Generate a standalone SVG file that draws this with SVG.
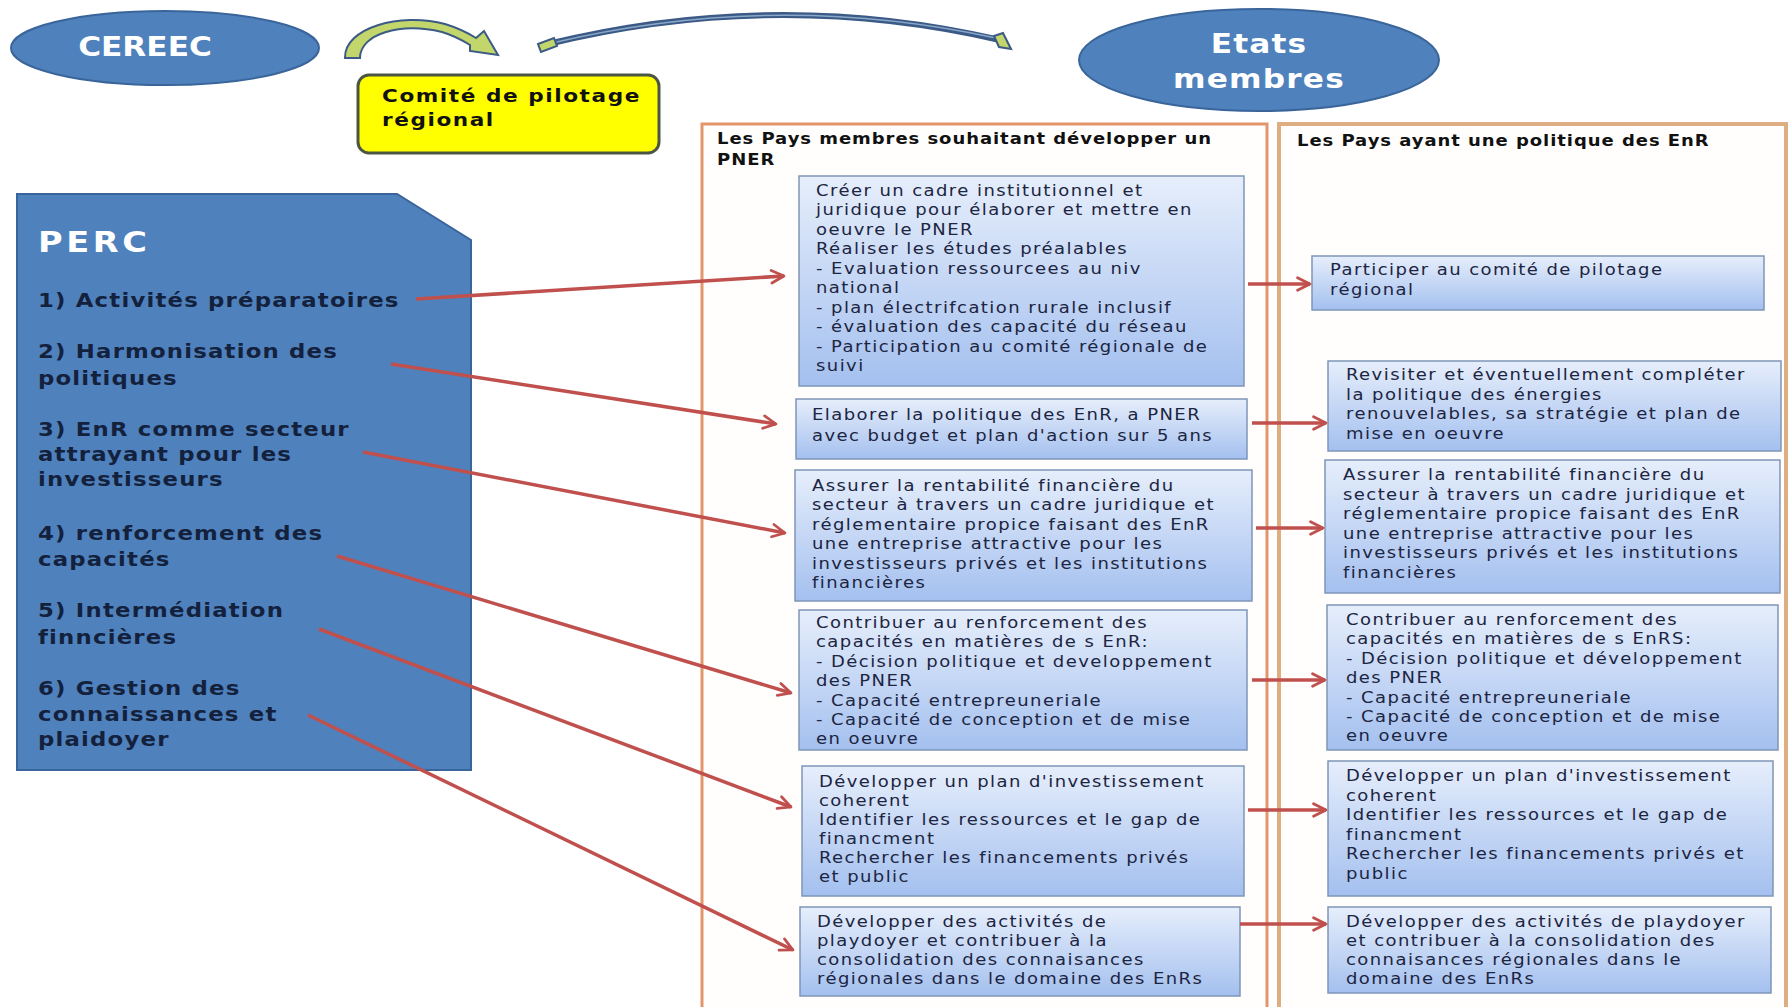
<svg xmlns="http://www.w3.org/2000/svg" width="1789" height="1007" viewBox="0 0 1789 1007">
<defs>
<style>
.t{font-family:"DejaVu Sans",sans-serif;font-size:15px;fill:#1c2541;letter-spacing:1.2px}
.h{font-family:"DejaVu Sans",sans-serif;font-weight:bold;font-size:15px;fill:#111;letter-spacing:0.8px}
.y{font-family:"DejaVu Sans",sans-serif;font-weight:bold;font-size:18px;fill:#111;letter-spacing:1.3px}
.p{font-family:"DejaVu Sans",sans-serif;font-weight:bold;font-size:19px;fill:#14213d;letter-spacing:1px}
.w{font-family:"DejaVu Sans",sans-serif;font-weight:bold;fill:#fff}
.box{fill:url(#bg);stroke:#7f95b8;stroke-width:1.5}
.ar{stroke:#c0504d;stroke-width:3.5;fill:none;marker-end:url(#ah)}
</style>
<linearGradient id="bg" x1="0" y1="0" x2="0" y2="1">
<stop offset="0" stop-color="#e6eefb"/>
<stop offset="1" stop-color="#a4c0ef"/>
</linearGradient>
<marker id="ah" viewBox="0 0 14 14" refX="12" refY="7" markerWidth="5" markerHeight="5" orient="auto" markerUnits="strokeWidth">
<path d="M2,2 L12,7 L2,12" fill="none" stroke="#c0504d" stroke-width="2.2" stroke-linecap="round" stroke-linejoin="round"/>
</marker>
</defs>
<rect width="1789" height="1007" fill="#fff"/>

<g id="cereec">
<ellipse cx="165" cy="48" rx="154" ry="37" fill="#4f81bd" stroke="#3a659a" stroke-width="2"/>
<g transform="translate(145 0) scale(1.2 1)"><text class="w" x="0" y="56" font-size="26" text-anchor="middle">CEREEC</text></g>
</g>

<g id="etats-membres">
<ellipse cx="1259" cy="60" rx="180" ry="51" fill="#4f81bd" stroke="#3a659a" stroke-width="2"/>
<g transform="translate(1259 0) scale(1.2 1)"><text class="w" font-size="26" text-anchor="middle" letter-spacing="1"><tspan x="0" y="53">Etats</tspan><tspan x="0" y="88">membres</tspan></text></g>
</g>

<g id="comite">
<rect x="358" y="75" width="301" height="78" rx="11" fill="#ffff00" stroke="#4b5642" stroke-width="3"/>
<g transform="translate(382 0) scale(1.2 1)"><text class="y"><tspan x="0" y="102">Comité de pilotage</tspan><tspan x="0" y="126">régional</tspan></text></g>
</g>

<g id="top-arrows">
<path d="M345,58 C344,28 400,12 445,24 C458,28 468,33 476,38 L484,31 L498,55 L470,51 L470,45 C462,40 452,35 442,32 C400,22 360,34 360,58 Z" fill="#c3d66b" stroke="#3b5a86" stroke-width="2"/>
<path d="M548,44 Q776,-12 1000,40" fill="none" stroke="#3b5a86" stroke-width="6"/>
<path d="M552,43 Q776,-10 996,38" fill="none" stroke="#8aa7c9" stroke-width="1.5"/>
<path d="M538,44 L554,38 L557,46 L541,52 Z" fill="#c3d66b" stroke="#3b5a86" stroke-width="2"/>
<path d="M994,36 L1003,33 L1011,49 L999,47 Z" fill="#c3d66b" stroke="#3b5a86" stroke-width="2"/>
</g>

<g id="perc">
<path d="M17,194 L397,194 L471,240 L471,770 L17,770 Z" fill="#4f81bd" stroke="#3a659a" stroke-width="2"/>
<g transform="translate(38 0) scale(1.2 1)">
<text class="w" x="0" y="252" font-size="28" letter-spacing="3">PERC</text>
<text class="p">
<tspan x="0" y="307">1) Activités préparatoires</tspan>
<tspan x="0" y="358">2) Harmonisation des</tspan>
<tspan x="0" y="385">politiques</tspan>
<tspan x="0" y="436">3) EnR comme secteur</tspan>
<tspan x="0" y="461">attrayant pour les</tspan>
<tspan x="0" y="486">investisseurs</tspan>
<tspan x="0" y="540">4) renforcement des</tspan>
<tspan x="0" y="566">capacités</tspan>
<tspan x="0" y="617">5) Intermédiation</tspan>
<tspan x="0" y="644">finncières</tspan>
<tspan x="0" y="695">6) Gestion des</tspan>
<tspan x="0" y="721">connaissances et</tspan>
<tspan x="0" y="746">plaidoyer</tspan>
</text>
</g>
</g>

<g id="col-pner">
<rect x="702" y="124" width="565" height="890" fill="#fffefd" stroke="#e4956a" stroke-width="3"/>
<g transform="translate(717 0) scale(1.2 1)"><text class="h"><tspan x="0" y="144">Les Pays membres souhaitant développer un</tspan><tspan x="0" y="165">PNER</tspan></text></g>
</g>

<g id="col-enr">
<rect x="1279" y="124" width="507" height="890" fill="#fffefd" stroke="#dcae82" stroke-width="4"/>
<g transform="translate(1297 0) scale(1.2 1)"><text class="h"><tspan x="0" y="146">Les Pays ayant une politique des EnR</tspan></text></g>
</g>

<g id="b1">
<rect class="box" x="799" y="176" width="445" height="210"/>
<g transform="translate(816 0) scale(1.2 1)"><text class="t">
<tspan x="0" y="196">Créer un cadre institutionnel  et</tspan>
<tspan x="0" y="215.5">juridique pour élaborer et mettre en</tspan>
<tspan x="0" y="235">oeuvre le PNER</tspan>
<tspan x="0" y="254.5">Réaliser les études préalables</tspan>
<tspan x="0" y="274">- Evaluation ressourcees au niv</tspan>
<tspan x="0" y="293.5">national</tspan>
<tspan x="0" y="313">-  plan électrifcation rurale inclusif</tspan>
<tspan x="0" y="332.5">-  évaluation des capacité du réseau</tspan>
<tspan x="0" y="352">- Participation au comité régionale de</tspan>
<tspan x="0" y="371.5">suivi</tspan>
</text></g>
</g>

<g id="b2">
<rect class="box" x="796" y="399" width="451" height="60"/>
<g transform="translate(812 0) scale(1.2 1)"><text class="t">
<tspan x="0" y="420">Elaborer  la politique des EnR, a PNER</tspan>
<tspan x="0" y="441">avec budget et plan d'action sur 5 ans</tspan>
</text></g>
</g>

<g id="b3">
<rect class="box" x="795" y="470" width="457" height="131"/>
<g transform="translate(812 0) scale(1.2 1)"><text class="t">
<tspan x="0" y="491">Assurer la rentabilité financière du</tspan>
<tspan x="0" y="510.4">secteur à travers un cadre juridique et</tspan>
<tspan x="0" y="529.8">réglementaire propice faisant des EnR</tspan>
<tspan x="0" y="549.2">une entreprise attractive pour les</tspan>
<tspan x="0" y="568.6">investisseurs privés et les institutions</tspan>
<tspan x="0" y="588">financières</tspan>
</text></g>
</g>

<g id="b4">
<rect class="box" x="799" y="610" width="448" height="140"/>
<g transform="translate(816 0) scale(1.2 1)"><text class="t">
<tspan x="0" y="628">Contribuer au renforcement des</tspan>
<tspan x="0" y="647.4">capacités en matières de s EnR:</tspan>
<tspan x="0" y="666.8">- Décision politique et developpement</tspan>
<tspan x="0" y="686.2">des PNER</tspan>
<tspan x="0" y="705.6">- Capacité entrepreuneriale</tspan>
<tspan x="0" y="725">- Capacité de conception et de mise</tspan>
<tspan x="0" y="744.4">en oeuvre</tspan>
</text></g>
</g>

<g id="b5">
<rect class="box" x="802" y="766" width="442" height="130"/>
<g transform="translate(819 0) scale(1.2 1)"><text class="t">
<tspan x="0" y="787">Développer un plan d'investissement</tspan>
<tspan x="0" y="806">coherent</tspan>
<tspan x="0" y="825">Identifier  les ressources et le gap  de</tspan>
<tspan x="0" y="844">financment</tspan>
<tspan x="0" y="863">Rechercher les financements privés</tspan>
<tspan x="0" y="882">et public</tspan>
</text></g>
</g>

<g id="b6">
<rect class="box" x="800" y="907" width="440" height="89"/>
<g transform="translate(817 0) scale(1.2 1)"><text class="t">
<tspan x="0" y="927">Développer des activités de</tspan>
<tspan x="0" y="946">playdoyer et contribuer  à la</tspan>
<tspan x="0" y="965">consolidation des connaisances</tspan>
<tspan x="0" y="984">régionales dans le domaine des EnRs</tspan>
</text></g>
</g>

<g id="r1">
<rect class="box" x="1312" y="256" width="452" height="54"/>
<g transform="translate(1330 0) scale(1.2 1)"><text class="t">
<tspan x="0" y="275">Participer  au  comité  de pilotage</tspan>
<tspan x="0" y="295">régional</tspan>
</text></g>
</g>

<g id="r2">
<rect class="box" x="1328" y="361" width="453" height="90"/>
<g transform="translate(1346 0) scale(1.2 1)"><text class="t">
<tspan x="0" y="380">Revisiter et éventuellement  compléter</tspan>
<tspan x="0" y="400">la politique  des énergies</tspan>
<tspan x="0" y="419">renouvelables, sa stratégie et plan de</tspan>
<tspan x="0" y="439">mise en oeuvre</tspan>
</text></g>
</g>

<g id="r3">
<rect class="box" x="1325" y="460" width="455" height="133"/>
<g transform="translate(1343 0) scale(1.2 1)"><text class="t">
<tspan x="0" y="480">Assurer la rentabilité financière du</tspan>
<tspan x="0" y="499.6">secteur à travers un cadre juridique et</tspan>
<tspan x="0" y="519.2">réglementaire propice faisant des EnR</tspan>
<tspan x="0" y="538.8">une entreprise attractive pour les</tspan>
<tspan x="0" y="558.4">investisseurs privés et les institutions</tspan>
<tspan x="0" y="578">financières</tspan>
</text></g>
</g>

<g id="r4">
<rect class="box" x="1327" y="605" width="451" height="145"/>
<g transform="translate(1346 0) scale(1.2 1)"><text class="t">
<tspan x="0" y="625">Contribuer  au renforcement  des</tspan>
<tspan x="0" y="644.4">capacités en matières de s EnRS:</tspan>
<tspan x="0" y="663.8">- Décision politique et développement</tspan>
<tspan x="0" y="683.2">des PNER</tspan>
<tspan x="0" y="702.6">- Capacité entrepreuneriale</tspan>
<tspan x="0" y="722">- Capacité de conception et de mise</tspan>
<tspan x="0" y="741.4">en oeuvre</tspan>
</text></g>
</g>

<g id="r5">
<rect class="box" x="1328" y="761" width="445" height="135"/>
<g transform="translate(1346 0) scale(1.2 1)"><text class="t">
<tspan x="0" y="781">Développer  un  plan d'investissement</tspan>
<tspan x="0" y="800.6">coherent</tspan>
<tspan x="0" y="820.2">Identifier les ressources et le gap  de</tspan>
<tspan x="0" y="839.8">financment</tspan>
<tspan x="0" y="859.4">Rechercher  les financements privés et</tspan>
<tspan x="0" y="879">public</tspan>
</text></g>
</g>

<g id="r6">
<rect class="box" x="1328" y="907" width="443" height="86"/>
<g transform="translate(1346 0) scale(1.2 1)"><text class="t">
<tspan x="0" y="927">Développer  des activités de playdoyer</tspan>
<tspan x="0" y="946">et contribuer  à la consolidation  des</tspan>
<tspan x="0" y="965">connaisances régionales dans le</tspan>
<tspan x="0" y="984">domaine  des EnRs</tspan>
</text></g>
</g>

<g id="connectors">
<line class="ar" x1="416" y1="299" x2="784" y2="276"/>
<line class="ar" x1="391" y1="364" x2="776" y2="424"/>
<line class="ar" x1="363" y1="452" x2="785" y2="533"/>
<line class="ar" x1="337" y1="556" x2="791" y2="693"/>
<line class="ar" x1="319" y1="629" x2="791" y2="807"/>
<line class="ar" x1="308" y1="715" x2="793" y2="950"/>
<line class="ar" x1="1248" y1="284" x2="1310" y2="284"/>
<line class="ar" x1="1252" y1="423" x2="1326" y2="423"/>
<line class="ar" x1="1256" y1="528" x2="1323" y2="528"/>
<line class="ar" x1="1252" y1="680" x2="1325" y2="680"/>
<line class="ar" x1="1248" y1="810" x2="1326" y2="810"/>
<line class="ar" x1="1240" y1="924" x2="1326" y2="924"/>
</g>
</svg>
